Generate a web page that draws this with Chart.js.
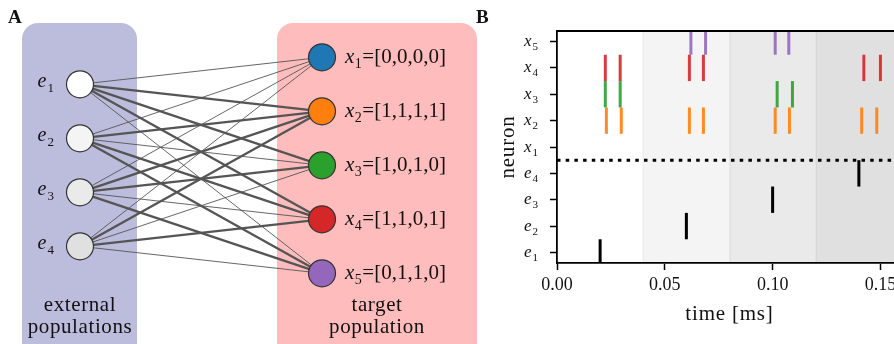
<!DOCTYPE html>
<html>
<head>
<meta charset="utf-8">
<script src="https://cdn.jsdelivr.net/npm/chart.js@4.4.1/dist/chart.umd.min.js"></script>
<style>
  html, body { margin: 0; padding: 0; background: #fff; overflow: hidden; }
  #wrap { position: relative; width: 894px; height: 344px; overflow: hidden; }
  #net { position: absolute; left: 0; top: 0; }
  #raster { position: absolute; left: 460px; top: 0; }
</style>
</head>
<body>
<div id="wrap">
  <canvas id="net" width="480" height="344"></canvas>
  <canvas id="raster" width="460" height="344"></canvas>
</div>
<script>
// ---- network: external populations e1..e4 project onto target neurons x1..x5
const externalNames = ['e1', 'e2', 'e3', 'e4'];
const targetNames = ['x1', 'x2', 'x3', 'x4', 'x5'];
// binary input code of each target neuron (one entry per external population)
const targetCodes = [
  [0, 0, 0, 0],
  [1, 1, 1, 1],
  [1, 0, 1, 0],
  [1, 1, 0, 1],
  [0, 1, 1, 0]
];
const targetColors = ['#1f77b4', '#ff7f0e', '#2ca02c', '#d62728', '#9467bd'];
const externalFills = ['#ffffff', '#f4f4f4', '#eaeaea', '#e0e0e0'];

// ---- raster: spike times [ms]
const windowStarts = [0.00, 0.04, 0.08, 0.12];
const externalSpikes = [[0.020], [0.060], [0.100], [0.140]];
const targetSpikes = [
  [],
  [0.0229, 0.0298, 0.0614, 0.0679, 0.1012, 0.1078, 0.1413, 0.1483],
  [0.0224, 0.0293, 0.1021, 0.1092],
  [0.0224, 0.0293, 0.0614, 0.0679, 0.1423, 0.1500],
  [0.0621, 0.0689, 0.1012, 0.1075]
];
const timeTicks = [0.00, 0.05, 0.10, 0.15];
const timeMax = 0.16;

const SERIF = '"Liberation Serif", "DejaVu Serif", serif';
const INK = '#111';
Chart.defaults.font.family = SERIF;
Chart.defaults.color = INK;
Chart.defaults.animation = false;

// draws an italic symbol with a subscript, e.g. e with 1 below
function mathLabel(ctx, name, x, y, o) {
  const base = name[0], sub = name.slice(1);
  const bf = 'italic ' + o.size + 'px ' + SERIF;
  const sf = o.subSize + 'px ' + SERIF;
  ctx.font = bf; const bw = ctx.measureText(base).width;
  ctx.font = sf; const sw = ctx.measureText(sub).width;
  const x0 = o.align === 'right' ? x - bw - o.gap - sw : x;
  ctx.textAlign = 'left';
  ctx.textBaseline = 'alphabetic';
  ctx.fillStyle = INK;
  ctx.font = bf; ctx.fillText(base, x0, y);
  ctx.font = sf; ctx.fillText(sub, x0 + bw + o.gap, y + o.drop);
  return x0 + bw + o.gap + sw;
}

function roundRect(ctx, x, y, w, h, r, fill) {
  ctx.beginPath();
  ctx.moveTo(x + r, y);
  ctx.arcTo(x + w, y, x + w, y + h, r);
  ctx.arcTo(x + w, y + h, x, y + h, r);
  ctx.arcTo(x, y + h, x, y, r);
  ctx.arcTo(x, y, x + w, y, r);
  ctx.closePath();
  ctx.fillStyle = fill;
  ctx.fill();
}

// ================= panel A =================
const NET_W = 480, NET_H = 344;
const colPx = [80, 322];      // pixel x of the two node columns
const rowTop = 57.3, rowStep = 54;
const unitX = colPx[1] - colPx[0];

const edgeSets = [];
externalNames.forEach((e, j) => {
  targetNames.forEach((t, i) => {
    edgeSets.push({
      data: [{ x: 0, y: j + 0.5 }, { x: 1, y: i }],
      showLine: true,
      borderColor: '#555',
      borderWidth: targetCodes[i][j] ? 2.3 : 0.9,
      pointRadius: 0,
      order: 2
    });
  });
});

const netLayer = {
  id: 'netLayer',
  beforeDatasetsDraw(chart) {
    const ctx = chart.ctx;
    const xs = chart.scales.x;
    const c0 = xs.getPixelForValue(0), c1 = xs.getPixelForValue(1);
    ctx.save();
    roundRect(ctx, c0 - 58, 23, 115, 340, 16, '#bcbddd');
    roundRect(ctx, c1 - 45, 23, 200, 340, 16, '#ffbcbc');
    ctx.restore();
  },
  afterDraw(chart) {
    const ctx = chart.ctx;
    const xs = chart.scales.x, ys = chart.scales.y;
    const c0 = xs.getPixelForValue(0), c1 = xs.getPixelForValue(1);
    ctx.save();
    ctx.fillStyle = INK;
    ctx.font = 'bold 19px ' + SERIF;
    ctx.textAlign = 'left';
    ctx.fillText('A', 8, 23);
    externalNames.forEach((n, j) => {
      const y = ys.getPixelForValue(j + 0.5);
      mathLabel(ctx, n, c0 - 26, y + 3, { size: 20, subSize: 13, gap: 1, drop: 4.5, align: 'right' });
    });
    targetNames.forEach((n, i) => {
      const y = ys.getPixelForValue(i);
      const end = mathLabel(ctx, n, c1 + 23, y + 6, { size: 21, subSize: 14, gap: 0.5, drop: 4.5, align: 'left' });
      ctx.font = '21px ' + SERIF;
      ctx.fillText('=[' + targetCodes[i].join(',') + ']', end + 0.5, y + 6);
    });
    ctx.textAlign = 'center';
    ctx.font = '21px ' + SERIF;
    ctx.letterSpacing = '0.6px';
    ctx.fillText('external', c0, 311);
    ctx.fillText('populations', c0, 333);
    ctx.fillText('target', c1 + 55, 311);
    ctx.fillText('population', c1 + 55, 333);
    ctx.restore();
  }
};

new Chart(document.getElementById('net'), {
  type: 'scatter',
  data: {
    datasets: [
      {
        data: externalNames.map((_, j) => ({ x: 0, y: j + 0.5 })),
        pointRadius: 13.5,
        backgroundColor: externalFills,
        borderColor: '#333',
        borderWidth: 1.2,
        order: 0
      },
      {
        data: targetNames.map((_, i) => ({ x: 1, y: i })),
        pointRadius: 13.5,
        backgroundColor: targetColors,
        borderColor: '#333',
        borderWidth: 1.2,
        order: 0
      },
      ...edgeSets
    ]
  },
  options: {
    responsive: false,
    events: [],
    layout: { padding: 0, autoPadding: false },
    plugins: { legend: { display: false }, tooltip: { enabled: false } },
    scales: {
      x: { type: 'linear', display: false, min: -colPx[0] / unitX, max: (NET_W - colPx[0]) / unitX },
      y: { type: 'linear', display: false, reverse: true, min: -rowTop / rowStep, max: (NET_H - rowTop) / rowStep }
    }
  },
  plugins: [netLayer]
});

// ================= panel B =================
const rowNames = externalNames.concat(targetNames);
const rows = rowNames.map((_, k) => k);
const nExt = externalNames.length;

const withAlpha = (hex, a) => {
  const v = parseInt(hex.slice(1), 16);
  return 'rgba(' + (v >> 16) + ',' + ((v >> 8) & 255) + ',' + (v & 255) + ',' + a + ')';
};

const spikeSets = [];
externalSpikes.forEach((times, j) => {
  times.forEach(t => spikeSets.push({
    data: [{ x: t, y: j - 0.5 }, { x: t, y: j + 0.5 }],
    showLine: true, borderColor: '#000', borderWidth: 3, pointRadius: 0,
    borderCapStyle: 'butt', clip: 0
  }));
});
targetSpikes.forEach((times, i) => {
  times.forEach(t => spikeSets.push({
    data: [{ x: t, y: nExt + i - 0.5 }, { x: t, y: nExt + i + 0.5 }],
    showLine: true, borderColor: withAlpha(targetColors[i], 0.9), borderWidth: 3, pointRadius: 0,
    borderCapStyle: 'butt', clip: 0
  }));
});
// separator between external and target rows
spikeSets.push({
  data: [{ x: 0, y: nExt - 0.5 }, { x: timeMax, y: nExt - 0.5 }],
  showLine: true, borderColor: '#000', borderWidth: 3, pointRadius: 0,
  borderDash: [3.5, 5.2], borderCapStyle: 'butt', clip: 0
});

const rasterLayer = {
  id: 'rasterLayer',
  beforeDraw(chart) {
    const ctx = chart.ctx, a = chart.chartArea, xs = chart.scales.x;
    ctx.save();
    windowStarts.forEach((s, k) => {
      const x0 = xs.getPixelForValue(s);
      const x1 = k + 1 < windowStarts.length ? xs.getPixelForValue(windowStarts[k + 1]) : a.right;
      ctx.fillStyle = externalFills[k];
      ctx.fillRect(x0, a.top, x1 - x0, a.bottom - a.top);
      if (k > 0) {
        ctx.fillStyle = 'rgba(0,0,0,0.07)';
        ctx.fillRect(Math.round(x0) - 0.5, a.top, 1, a.bottom - a.top);
      }
    });
    ctx.restore();
  },
  afterDraw(chart) {
    const ctx = chart.ctx, a = chart.chartArea, ys = chart.scales.y;
    ctx.save();
    // top spine
    ctx.strokeStyle = '#000';
    ctx.lineWidth = 1.8;
    ctx.beginPath();
    ctx.moveTo(a.left - 0.9, a.top);
    ctx.lineTo(a.right, a.top);
    ctx.stroke();
    // row labels
    rowNames.forEach((n, k) => {
      const y = ys.getPixelForValue(k);
      mathLabel(ctx, n, a.left - 19, y + 4.5, { size: 17, subSize: 11, gap: 1, drop: 4, align: 'right' });
    });
    ctx.fillStyle = INK;
    ctx.font = '21px ' + SERIF;
    ctx.letterSpacing = '0.8px';
    ctx.textAlign = 'center';
    ctx.textBaseline = 'alphabetic';
    ctx.fillText('time [ms]', (a.left + a.right) / 2, 320);
    ctx.save();
    ctx.translate(54, (a.top + a.bottom) / 2);
    ctx.rotate(-Math.PI / 2);
    ctx.fillText('neuron', 0, 0);
    ctx.restore();
    ctx.letterSpacing = '0px';
    ctx.font = 'bold 19px ' + SERIF;
    ctx.textAlign = 'left';
    ctx.fillText('B', 16, 23);
    ctx.restore();
  }
};

new Chart(document.getElementById('raster'), {
  type: 'scatter',
  data: { datasets: spikeSets },
  options: {
    responsive: false,
    events: [],
    layout: { padding: { top: 31, right: 18, bottom: 0, left: 0 }, autoPadding: false },
    plugins: { legend: { display: false }, tooltip: { enabled: false } },
    scales: {
      x: {
        type: 'linear', min: 0, max: timeMax,
        afterBuildTicks(s) { s.ticks = timeTicks.map(v => ({ value: v })); },
        afterFit(s) { s.height = 81; },
        ticks: { callback: v => Number(v).toFixed(2), font: { size: 18 }, color: INK, padding: 4, maxRotation: 0 },
        grid: { drawOnChartArea: false, drawTicks: true, tickLength: 7, tickWidth: 1.5, tickColor: '#000' },
        border: { display: true, color: '#000', width: 1.8 }
      },
      y: {
        type: 'linear', min: -0.4, max: rowNames.length - 1 + 0.4,
        afterBuildTicks(s) { s.ticks = rows.map(v => ({ value: v })); },
        afterFit(s) { s.width = 97; },
        ticks: { callback: () => '' },
        grid: { drawOnChartArea: false, drawTicks: true, tickLength: 7, tickWidth: 1.5, tickColor: '#000' },
        border: { display: true, color: '#000', width: 1.8 }
      }
    }
  },
  plugins: [rasterLayer]
});
</script>
</body>
</html>
